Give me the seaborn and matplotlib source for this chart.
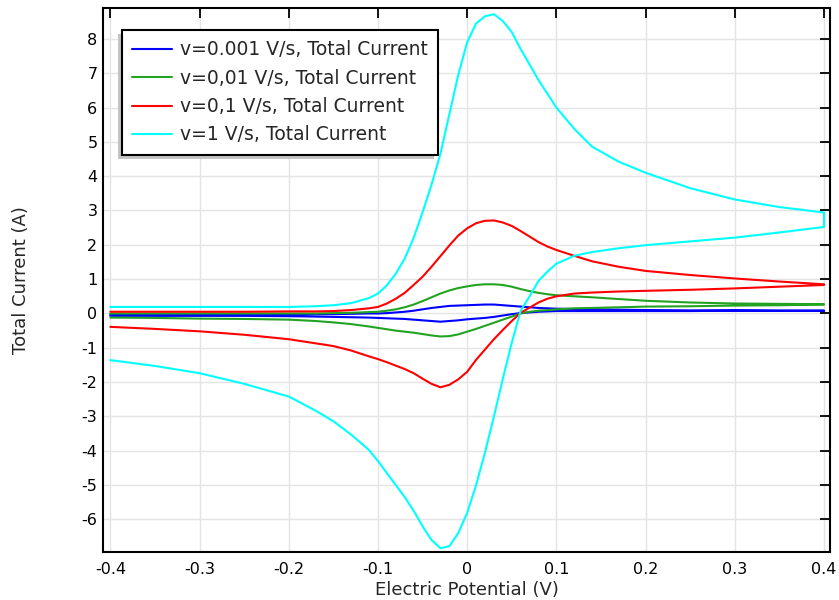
import matplotlib
matplotlib.use("Agg")
import matplotlib.pyplot as plt
import matplotlib.patches as mpatches
from matplotlib.transforms import IdentityTransform
import seaborn as sns
import pandas as pd

# potentials (V), shared by every scan
potential = [-0.4, -0.35, -0.3, -0.25, -0.2, -0.17, -0.15, -0.13, -0.11, -0.1,
             -0.09, -0.08, -0.07, -0.06, -0.05, -0.04, -0.03, -0.02, -0.01, 0.0,
             0.01, 0.02, 0.03, 0.04, 0.05, 0.06, 0.07, 0.08, 0.09, 0.1,
             0.12, 0.14, 0.17, 0.2, 0.25, 0.3, 0.35, 0.4]

# total current (A), forward (anodic) and reverse (cathodic) branches
i_0001_fwd = [-0.03, -0.03, -0.03, -0.03, -0.03, -0.02, -0.02, -0.01, 0.0, 0.0,
              0.01, 0.03, 0.05, 0.08, 0.12, 0.16, 0.19, 0.22, 0.23, 0.24,
              0.25, 0.26, 0.26, 0.24, 0.22, 0.2, 0.18, 0.16, 0.15, 0.14,
              0.13, 0.12, 0.11, 0.1, 0.09, 0.09, 0.08, 0.08]
i_0001_rev = [-0.07, -0.07, -0.07, -0.07, -0.08, -0.09, -0.1, -0.11, -0.12, -0.13,
              -0.14, -0.15, -0.16, -0.18, -0.2, -0.22, -0.24, -0.22, -0.2, -0.17,
              -0.15, -0.13, -0.1, -0.06, -0.02, 0.01, 0.03, 0.05, 0.06, 0.07,
              0.07, 0.07, 0.07, 0.07, 0.07, 0.08, 0.08, 0.08]

i_001_fwd = [0.0, 0.0, 0.0, 0.0, 0.0, 0.0, 0.01, 0.02, 0.04, 0.05,
             0.08, 0.12, 0.18, 0.26, 0.36, 0.47, 0.58, 0.67, 0.74, 0.79,
             0.83, 0.85, 0.85, 0.83, 0.78, 0.71, 0.65, 0.6, 0.56, 0.53,
             0.5, 0.47, 0.42, 0.37, 0.32, 0.29, 0.28, 0.27]
i_001_rev = [-0.12, -0.13, -0.15, -0.16, -0.18, -0.22, -0.26, -0.31, -0.38, -0.42,
             -0.46, -0.5, -0.53, -0.56, -0.6, -0.64, -0.67, -0.66, -0.61, -0.53,
             -0.45, -0.36, -0.27, -0.18, -0.09, 0.0, 0.05, 0.08, 0.1, 0.12,
             0.15, 0.16, 0.18, 0.2, 0.21, 0.23, 0.24, 0.26]

i_01_fwd = [0.05, 0.05, 0.05, 0.05, 0.06, 0.06, 0.07, 0.1, 0.15, 0.19,
            0.29, 0.43, 0.6, 0.83, 1.07, 1.36, 1.67, 1.98, 2.27, 2.48,
            2.63, 2.7, 2.71, 2.65, 2.55, 2.4, 2.24, 2.08, 1.95, 1.85,
            1.68, 1.52, 1.36, 1.24, 1.12, 1.02, 0.93, 0.85]
i_01_rev = [-0.39, -0.45, -0.52, -0.62, -0.75, -0.87, -0.95, -1.08, -1.25, -1.33,
            -1.42, -1.52, -1.62, -1.74, -1.9, -2.05, -2.15, -2.08, -1.92, -1.7,
            -1.35, -1.05, -0.75, -0.48, -0.22, 0.02, 0.17, 0.32, 0.43, 0.5,
            0.58, 0.61, 0.64, 0.66, 0.69, 0.73, 0.78, 0.83]

i_1_fwd = [0.19, 0.19, 0.19, 0.19, 0.19, 0.21, 0.24, 0.3, 0.45, 0.58,
           0.82, 1.16, 1.6, 2.2, 2.95, 3.75, 4.65, 5.8, 6.95, 7.9,
           8.45, 8.66, 8.72, 8.52, 8.2, 7.7, 7.25, 6.8, 6.4, 6.0,
           5.38, 4.86, 4.42, 4.1, 3.65, 3.32, 3.1, 2.94]
i_1_rev = [-1.36, -1.53, -1.74, -2.05, -2.42, -2.83, -3.14, -3.53, -3.98, -4.3,
           -4.65, -5.0, -5.35, -5.75, -6.2, -6.6, -6.84, -6.78, -6.4, -5.81,
           -5.0, -4.05, -3.0, -1.9, -0.85, 0.08, 0.5, 0.95, 1.22, 1.45,
           1.68, 1.79, 1.9, 1.99, 2.1, 2.21, 2.36, 2.52]

labels = ["v=0.001 V/s, Total Current", "v=0,01 V/s, Total Current",
          "v=0,1 V/s, Total Current", "v=1 V/s, Total Current"]
colors = ["#0000ff", "#22a322", "#ff0000", "#00ffff"]

scans = [(i_0001_fwd, i_0001_rev), (i_001_fwd, i_001_rev),
         (i_01_fwd, i_01_rev), (i_1_fwd, i_1_rev)]

# one path per scan rate: forward sweep then back again
rows = []
for label, (fwd, rev) in zip(labels, scans):
    path_e = potential + potential[::-1]
    path_i = fwd + rev[::-1]
    for e, i in zip(path_e, path_i):
        rows.append({"E": e, "I": i, "rate": label})
df = pd.DataFrame(rows)

sns.set_style("white")
plt.rcParams["font.family"] = ["DejaVu Sans"]
plt.rcParams["axes.unicode_minus"] = False

fig = plt.figure(figsize=(8.39, 6.0), dpi=100)
ax = fig.add_axes([103 / 839, 48 / 600, 727 / 839, 544 / 600])

sns.lineplot(data=df, x="E", y="I", hue="rate", palette=colors,
             hue_order=labels, sort=False, estimator=None, units="rate",
             linewidth=1.5, ax=ax)

ax.set_xlim(-0.4082, 0.4067)
ax.set_ylim(-6.95, 8.9)
ax.set_xticks([-0.4, -0.3, -0.2, -0.1, 0, 0.1, 0.2, 0.3, 0.4])
ax.set_xticklabels(["-0.4", "-0.3", "-0.2", "-0.1", "0", "0.1", "0.2", "0.3", "0.4"])
ax.set_yticks(range(-6, 9))
ax.grid(True, color="#e4e4e4", linewidth=1.0)
ax.set_axisbelow(True)
ax.tick_params(direction="in", length=7, width=1.3, top=True, right=True,
               labelsize=11.5, colors="black")
ax.tick_params(axis="x", pad=7)
ax.tick_params(axis="y", pad=4)
for sp in ax.spines.values():
    sp.set_color("black")
    sp.set_linewidth(1.5)

ax.set_xlabel("Electric Potential (V)", fontsize=13, labelpad=3)
ax.set_ylabel("Total Current (A)", fontsize=13, labelpad=37)

leg = ax.legend(loc="upper left", bbox_to_anchor=(19 / 727, 522 / 544),
                borderaxespad=0, fontsize=13.5, frameon=True, fancybox=False,
                edgecolor="black", handlelength=2.1, handletextpad=0.45,
                borderpad=0.55, labelspacing=0.5)
leg.get_frame().set_linewidth(1.5)
leg.get_frame().set_alpha(1)
leg.set_zorder(6)

# grey drop shadow offset down and to the left of the legend box
fig.canvas.draw()
bb = leg.get_frame().get_window_extent()
shadow = mpatches.Rectangle((bb.x0 - 4, bb.y0 - 4), bb.width, bb.height,
                            transform=IdentityTransform(), facecolor="#c4c4c4",
                            edgecolor="none", zorder=5.5)
ax.add_artist(shadow)

plt.savefig("out.png", dpi=100)
